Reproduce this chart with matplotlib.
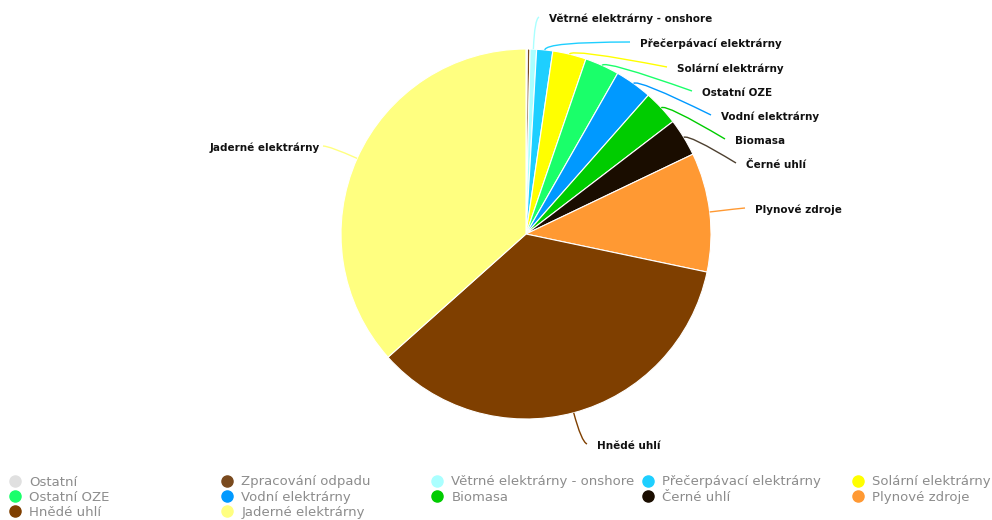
import numpy as np
import matplotlib
matplotlib.use("Agg")
import matplotlib.pyplot as plt
from matplotlib.path import Path
from matplotlib.patches import PathPatch
from matplotlib.lines import Line2D

# ---- data ----
categories = ["Ostatní", "Zpracování odpadu", "Větrné elektrárny - onshore",
              "Přečerpávací elektrárny", "Solární elektrárny", "Ostatní OZE",
              "Vodní elektrárny", "Biomasa", "Černé uhlí", "Plynové zdroje",
              "Hnědé uhlí", "Jaderné elektrárny"]
values = [0.12, 0.23, 0.57, 1.4, 2.93, 3.0, 3.25, 3.1, 3.3, 10.4, 35.1, 36.6]
colors = ["#e0e0e0", "#7a4a1e", "#aaffff", "#1ecfff", "#ffff00", "#1aff6a",
          "#0099ff", "#00cc00", "#1a0d00", "#ff9933", "#7f3f00", "#ffff80"]
show_label = [False, False, True, True, True, True, True, True, True, True, True, True]

# ---- layout (pixels, y down) ----
W, H = 992, 520
cx, cy, R = 526, 234, 185
label_pos = {
    2: (549, 19, "left"),
    3: (640, 44, "left"),
    4: (677, 69, "left"),
    5: (702, 93, "left"),
    6: (721, 117, "left"),
    7: (735, 141, "left"),
    8: (746, 165, "left"),
    9: (755, 210, "left"),
    10: (597, 446, "left"),
    11: (320, 148, "right"),
}
conn_color = {8: "#4d4030"}

fig = plt.figure(figsize=(W / 100, H / 100), dpi=100)
ax = fig.add_axes([0, 0, 1, 1])

ax.pie(values, colors=colors, startangle=90, counterclock=False,
       center=(cx, H - cy), radius=R,
       wedgeprops=dict(edgecolor="white", linewidth=0.8))
ax.set_xlim(0, W)
ax.set_ylim(0, H)
ax.set_aspect("equal")
ax.axis("off")

total = sum(values)
cum = np.cumsum([0] + values)
for i, name in enumerate(categories):
    if not show_label[i]:
        continue
    mid = np.deg2rad((cum[i] + cum[i + 1]) / 2 / total * 360)
    dx, dy = np.sin(mid), -np.cos(mid)
    ex, ey = cx + R * dx, cy + R * dy
    lx, ly, ha = label_pos[i]
    endx = lx - 10 if ha == "left" else lx + 3
    endy = ly - 2
    if abs(dy) > 1e-6:
        d = (endy - ey) / dy
    else:
        d = 10
    d = min(max(d, 6), 30)
    ctx, cty = ex + d * dx, ey + d * dy
    verts = [(ex, H - ey), (ctx, H - cty), (endx, H - endy)]
    path = Path(verts, [Path.MOVETO, Path.CURVE3, Path.CURVE3])
    ax.add_patch(PathPatch(path, facecolor="none",
                           edgecolor=conn_color.get(i, colors[i]), linewidth=1))
    ax.text(lx, H - ly, name, ha=ha, va="center", fontsize=7.5,
            fontweight="bold", color="#111111", family="DejaVu Sans")

# ---- legend: 5 columns, row-wise order ----
ncols = 5
col_x = [9, 221, 431, 642, 852]
handles = [Line2D([], [], marker="o", linestyle="none", markersize=8,
                  markerfacecolor=c, markeredgecolor=c) for c in colors]
for c in range(ncols):
    idx = list(range(c, len(categories), ncols))
    fig.legend([handles[k] for k in idx], [categories[k] for k in idx],
               loc="upper left", bbox_to_anchor=(col_x[c] / W, 1 - 475.5 / H),
               frameon=False, fontsize=9.5, labelcolor="#8c8c8c",
               handlelength=0.9, handletextpad=0.65, labelspacing=0.17,
               borderpad=0, borderaxespad=0)

fig.savefig("out.png", dpi=100, facecolor="white")
